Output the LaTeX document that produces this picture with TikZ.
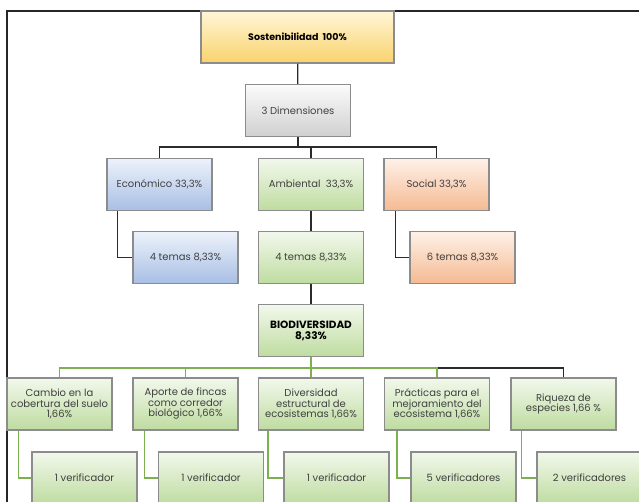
\documentclass[tikz,border=0pt]{standalone}
\usepackage{fontspec}
\setmainfont{Poppins}
\usetikzlibrary{calc}
\definecolor{Frame}{HTML}{262626}
\definecolor{Edge}{HTML}{8C8C8C}
\definecolor{Ink}{HTML}{404040}
\definecolor{Link}{HTML}{2B2B2B}
\definecolor{Leaf}{HTML}{7DB04F}
\definecolor{GoldTop}{HTML}{FFF6D8}
\definecolor{GoldBot}{HTML}{F9D36C}
\definecolor{GrayTop}{HTML}{FBFBFB}
\definecolor{GrayBot}{HTML}{D0D0D0}
\definecolor{BlueTop}{HTML}{EDF2FB}
\definecolor{BlueBot}{HTML}{A8BEE4}
\definecolor{GreenTop}{HTML}{F2F8EC}
\definecolor{GreenBot}{HTML}{BEDCA0}
\definecolor{PeachTop}{HTML}{FEF1E8}
\definecolor{PeachBot}{HTML}{F5BA92}
\tikzset{
    box/.style={rectangle, draw=Edge, line width=1.1pt, minimum width=105pt, minimum height=52pt, inner sep=1pt, align=center, text=Ink, font=\fontsize{10}{10.5}\selectfont},
    goldbox/.style={box, top color=GoldTop, bottom color=GoldBot, text=black, minimum width=193pt, font=\bfseries\fontsize{9.5}{11}\selectfont},
    graybox/.style={box, top color=GrayTop, bottom color=GrayBot},
    bluebox/.style={box, top color=BlueTop, bottom color=BlueBot},
    greenbox/.style={box, top color=GreenTop, bottom color=GreenBot},
    peachbox/.style={box, top color=PeachTop, bottom color=PeachBot},
    link/.style={draw=Link, line width=1.2pt},
    leaflink/.style={draw=Leaf, line width=1.2pt},
}

\begin{document}
\begin{tikzpicture}[x=1pt, y=-1pt]
    \clip (0,0) rectangle (639,501);
    % frame
    \draw[Frame, line width=1.6pt] (7,560) |- (700,11);

    % top levels
    \node[goldbox] (sost) at (297.5,37) {Sostenibilidad\ \ 100\%};
    \node[graybox] (dims) at (298,110.5) {3 Dimensiones};
    \node[bluebox] (econ) at (159.5,184.5) {Económico 33,3\%};
    \node[greenbox] (amb) at (311,184.5) {Ambiental\ \ 33,3\%};
    \node[peachbox] (soc) at (436.5,184.5) {Social 33,3\%};
    \node[bluebox] (temasE) at (185.5,257.5) {4 temas 8,33\%};
    \node[greenbox] (temasA) at (311,257.5) {4 temas 8,33\%};
    \node[peachbox] (temasS) at (462.5,257.5) {6 temas 8,33\%};
    \node[greenbox, text=black, font=\bfseries\fontsize{10.5}{11}\selectfont] (bio) at (311,330.5) {BIODIVERSIDAD\\8,33\%};

    % indicators
    \node[greenbox] (cambio) at (59.5,404) {Cambio en la\\cobertura del suelo\\1,66\%};
    \node[greenbox] (aporte) at (185.5,404) {Aporte de fincas\\como corredor\\biológico 1,66\%};
    \node[greenbox] (divers) at (311,404) {Diversidad\\estructural de\\ecosistemas 1,66\%};
    \node[greenbox] (practicas) at (437,404) {Prácticas para el\\mejoramiento del\\ecosistema 1,66\%};
    \node[greenbox] (riqueza) at (563.5,404) {Riqueza de\\especies 1,66 \%};

    % verifiers
    \node[greenbox] (verA) at (84.5,478) {1 verificador};
    \node[greenbox] (verB) at (211,478) {1 verificador};
    \node[greenbox] (verC) at (336.5,478) {1 verificador};
    \node[greenbox] (verD) at (463.5,478) {5 verificadores};
    \node[greenbox] (verE) at (589.5,478) {2 verificadores};

    % connectors
    \draw[link] (sost) -- (dims);
    \draw[link] (dims.south) -- ++(0,10) -| (econ.north);
    \draw[link] (dims.south) -- ++(0,10) -| (amb.north);
    \draw[link] (dims.south) -- ++(0,10) -| (soc.north);
    \draw[link] ([xshift=11pt]econ.south west) |- (temasE.west);
    \draw[link] (amb) -- (temasA);
    \draw[link] ([xshift=12pt]soc.south west) |- (temasS.west);
    \draw[link] (temasA) -- (bio);

    \draw[link] (bio.south) -- ++(0,11) -| (riqueza.north);
    \draw[leaflink] (bio.south) -- ++(0,11) -| (cambio.north);
    \draw[leaflink] (bio.south) -- ++(0,11) -| (aporte.north);
    \draw[leaflink] (bio.south) -- ++(0,11) -| (practicas.north);
    \draw[leaflink] (bio) -- (divers);

    \draw[leaflink] ([xshift=12pt]cambio.south west) |- (verA.west);
    \draw[leaflink] ([xshift=12pt]aporte.south west) |- (verB.west);
    \draw[leaflink] ([xshift=10pt]divers.south west) |- (verC.west);
    \draw[leaflink] ([xshift=13pt]practicas.south west) |- (verD.west);
    \draw[leaflink] ([xshift=11pt]riqueza.south west) |- (verE.west);
\end{tikzpicture}
\end{document}
